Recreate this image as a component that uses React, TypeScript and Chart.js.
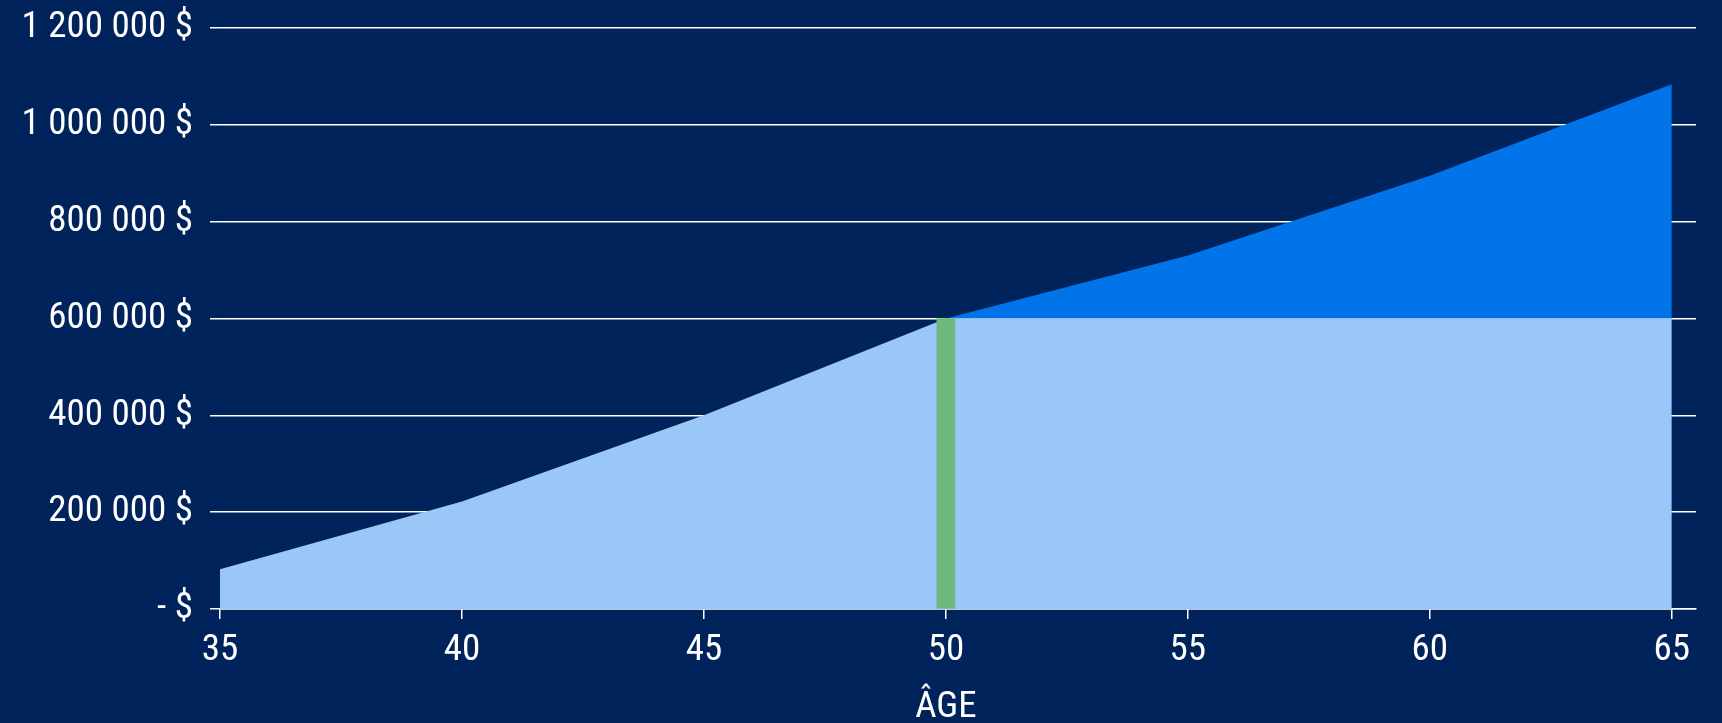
import React, { useEffect, useRef } from "react";
import { Chart, registerables } from "chart.js";

Chart.register(...registerables);

// ---- data ----
const ages = [35, 40, 45, 50, 55, 60, 65];
const projectedValues = [82000, 222000, 400000, 600000, 730000, 895000, 1084000];
const thresholdValue = 600000;
const milestoneAge = 50;
const xTickValues = [35, 40, 45, 50, 55, 60, 65];
const yTickValues = [0, 200000, 400000, 600000, 800000, 1000000, 1200000];
const xAxisTitle = "ÂGE";

const BG = "#00235B";
const LIGHT = "#9AC7F7";
const DARK = "#0074E8";
const GREEN = "#6DB87D";
const FONT = "'Liberation Sans Narrow', 'Roboto Condensed', 'DejaVu Sans Condensed', Roboto, sans-serif";
const FONT_SIZE = 37;

function formatMoney(v: number): string {
  if (v === 0) return "- $";
  return Math.round(v).toString().replace(/\B(?=(\d{3})+(?!\d))/g, " ") + " $";
}

const axisTitlePlugin = {
  id: "axisTitlePlugin",
  afterDraw(chart: any) {
    const x = chart.scales.x;
    const ctx = chart.ctx;
    const cx = (x.getPixelForValue(ages[0]) + x.getPixelForValue(ages[ages.length - 1])) / 2;
    ctx.save();
    ctx.fillStyle = "#FFFFFF";
    ctx.font = `${FONT_SIZE}px ${FONT}`;
    ctx.textAlign = "center";
    ctx.textBaseline = "middle";
    ctx.fillText(xAxisTitle, cx, chart.height - 15);
    ctx.restore();
  },
};

export default function App() {
  const ref = useRef<HTMLCanvasElement | null>(null);

  useEffect(() => {
    document.body.style.margin = "0";
    document.body.style.background = BG;
    const canvas = ref.current;
    if (!canvas) return;

    const lightData = ages.map((a, i) => ({ x: a, y: Math.min(projectedValues[i], thresholdValue) }));
    const darkData = ages
      .map((a, i) => ({ x: a, y: projectedValues[i] }))
      .filter((p) => p.x >= milestoneAge);

    const chart = new Chart(canvas, {
      type: "line",
      data: {
        datasets: [
          {
            type: "bar",
            data: [{ x: milestoneAge, y: thresholdValue }],
            backgroundColor: GREEN,
            barThickness: 18,
            order: 0,
          } as any,
          {
            type: "line",
            data: darkData,
            borderWidth: 0,
            pointRadius: 0,
            tension: 0,
            backgroundColor: DARK,
            borderColor: DARK,
            fill: { value: thresholdValue },
            order: 2,
          },
          {
            type: "line",
            data: lightData,
            borderWidth: 0,
            pointRadius: 0,
            tension: 0,
            backgroundColor: LIGHT,
            borderColor: LIGHT,
            fill: "origin",
            order: 1,
          },
        ],
      },
      plugins: [axisTitlePlugin],
      options: {
        responsive: false,
        animation: false,
        maintainAspectRatio: false,
        layout: { padding: { left: 0, right: 26, top: 28, bottom: 0 } },
        plugins: {
          legend: { display: false },
          tooltip: { enabled: false },
        },
        scales: {
          x: {
            type: "linear",
            min: 35,
            max: 65.5,
            offset: false,
            afterFit: (s: any) => {
              s.height = 114;
              s.paddingLeft = 0;
              s.paddingRight = 0;
            },
            afterBuildTicks: (s: any) => {
              s.ticks = xTickValues.map((v) => ({ value: v }));
            },
            grid: {
              offset: false,
              drawOnChartArea: false,
              drawTicks: true,
              tickLength: 10,
              color: "#FFFFFF",
              lineWidth: 1.5,
            },
            border: { display: true, color: "#FFFFFF", width: 1.5 },
            ticks: {
              color: "#FFFFFF",
              font: { family: FONT, size: FONT_SIZE },
              padding: 10,
              maxRotation: 0,
              autoSkip: false,
              callback: (v: any) => String(v),
            },
            title: { display: false },
          },
          y: {
            type: "linear",
            min: 0,
            max: 1200000,
            afterFit: (s: any) => {
              s.width = 220;
              s.paddingTop = 0;
              s.paddingBottom = 0;
            },
            afterBuildTicks: (s: any) => {
              s.ticks = yTickValues.map((v) => ({ value: v }));
            },
            grid: {
              drawTicks: true,
              tickLength: 10,
              color: "#FFFFFF",
              lineWidth: 1.5,
            },
            border: { display: false },
            ticks: {
              color: "#FFFFFF",
              font: { family: FONT, size: FONT_SIZE },
              padding: 17,
              callback: (v: any) => formatMoney(Number(v)),
            },
          },
        },
      },
    });
    return () => chart.destroy();
  }, []);

  return (
    <div style={{ width: 1722, height: 723, background: BG }}>
      <canvas ref={ref} width={1722} height={723} style={{ display: "block", width: 1722, height: 723 }} />
    </div>
  );
}
